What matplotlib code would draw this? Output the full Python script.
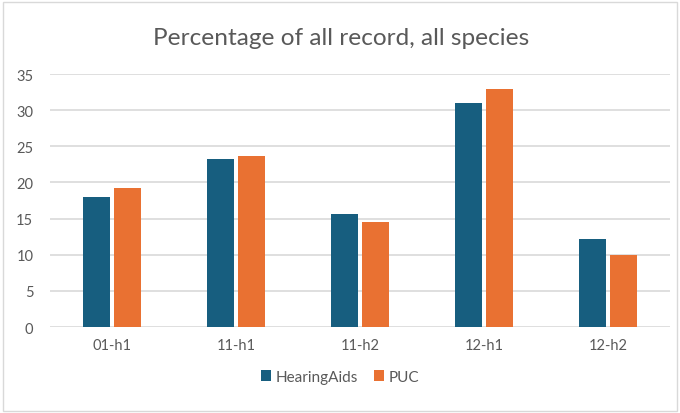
import matplotlib.pyplot as plt
import numpy as np
from matplotlib.patches import Rectangle

plt.rcParams['font.family'] = ['Lato', 'DejaVu Sans']

# chart data
categories = ['01-h1', '11-h1', '11-h2', '12-h1', '12-h2']
hearing_aids = [18.0, 23.2, 15.6, 31.0, 12.2]
puc = [19.2, 23.6, 14.5, 32.9, 10.0]

blue = '#175E7F'
orange = '#E97132'
grey = '#595959'

fig = plt.figure(figsize=(6.8, 4.14), dpi=100)
ax = fig.add_axes([0.0735, 0.2077, 0.9118, 0.6111])

x = np.arange(len(categories))
w = 0.215
gap = 0.03
ax.bar(x - (w + gap) / 2, hearing_aids, w, color=blue, label='HearingAids', zorder=3)
ax.bar(x + (w + gap) / 2, puc, w, color=orange, label='PUC', zorder=3)

ax.set_xlim(-0.5, len(categories) - 0.5)
ax.set_ylim(0, 35)
ax.set_yticks(range(0, 36, 5))
ax.set_xticks(x)
ax.set_xticklabels(categories)
ax.yaxis.grid(True, color='#D9D9D9', linewidth=1.2, zorder=0)
for s in ax.spines.values():
    s.set_visible(False)
ax.tick_params(length=0, colors=grey, labelsize=10.5)
ax.tick_params(axis='y', pad=12)
ax.tick_params(axis='x', pad=8)

fig.text(0.502, 0.908, 'Percentage of all record, all species', ha='center', va='center',
         fontsize=17.6, color=grey)

fig.legend(loc='center', bbox_to_anchor=(0.5, 0.087), ncol=2, frameon=False,
           fontsize=11, labelcolor=grey, handlelength=0.7, handleheight=0.7,
           handletextpad=0.3, columnspacing=1.0)

fig.patches.append(Rectangle((0.004, 0.005), 0.992, 0.988, transform=fig.transFigure,
                             fill=False, edgecolor='#D9D9D9', linewidth=1))

fig.savefig('out.png', dpi=100)
